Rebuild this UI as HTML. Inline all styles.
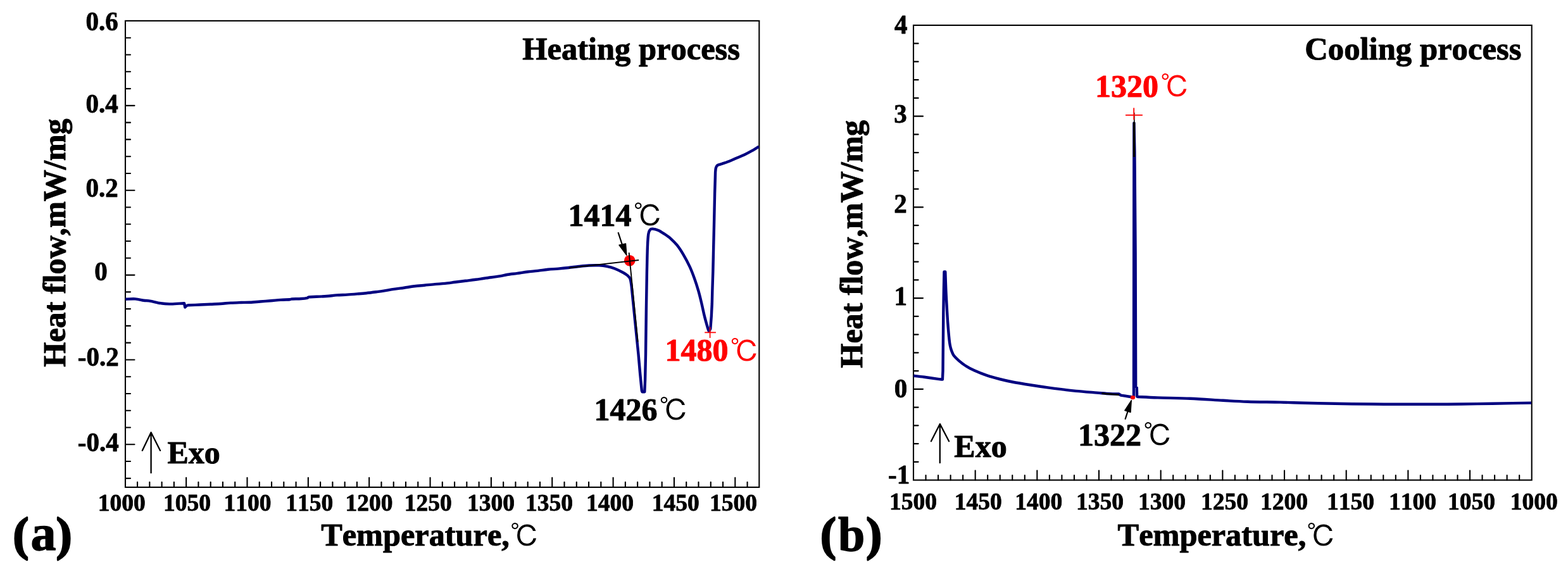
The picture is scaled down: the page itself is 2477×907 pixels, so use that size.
<!DOCTYPE html>
<html><head><meta charset="utf-8"><title>DSC heating and cooling curves</title>
<style>html,body{margin:0;padding:0;background:#fff;}body{width:2477px;height:907px;overflow:hidden;}svg{display:block;}
text{font-family:'Liberation Serif', 'Noto Serif CJK SC', serif;font-weight:bold;font-kerning:none;font-feature-settings:'kern' 0;stroke:#000;stroke-width:1px;stroke-linejoin:round;}.c{font-family:'Liberation Sans', 'IPAGothic', 'Noto Sans CJK JP', sans-serif;font-weight:normal;stroke-width:0;}.r{fill:#f00;stroke:#f00;}</style></head>
<body><svg width="2477" height="907" viewBox="0 0 2477 907">
<rect width="2477" height="907" fill="#fff"/>
<g stroke="#000" stroke-width="2.1" fill="none">
<rect x="198.0" y="32.9" width="1001.30" height="737.00"/>
<path d="M217.07 769.9v-8M236.34 769.9v-8M255.61 769.9v-8M274.88 769.9v-8M294.15 769.9v-15M313.42 769.9v-8M332.69 769.9v-8M351.96 769.9v-8M371.23 769.9v-8M390.50 769.9v-15M409.77 769.9v-8M429.04 769.9v-8M448.31 769.9v-8M467.58 769.9v-8M486.85 769.9v-15M506.12 769.9v-8M525.39 769.9v-8M544.66 769.9v-8M563.93 769.9v-8M583.20 769.9v-15M602.47 769.9v-8M621.74 769.9v-8M641.01 769.9v-8M660.28 769.9v-8M679.55 769.9v-15M698.82 769.9v-8M718.09 769.9v-8M737.36 769.9v-8M756.63 769.9v-8M775.90 769.9v-15M795.17 769.9v-8M814.44 769.9v-8M833.71 769.9v-8M852.98 769.9v-8M872.25 769.9v-15M891.52 769.9v-8M910.79 769.9v-8M930.06 769.9v-8M949.33 769.9v-8M968.60 769.9v-15M987.87 769.9v-8M1007.14 769.9v-8M1026.41 769.9v-8M1045.68 769.9v-8M1064.95 769.9v-15M1084.22 769.9v-8M1103.49 769.9v-8M1122.76 769.9v-8M1142.03 769.9v-8M1161.30 769.9v-15M1180.57 769.9v-8M198.0 59.77h8M198.0 86.54h8M198.0 113.32h8M198.0 140.09h8M198.0 166.86h14.5M198.0 193.63h8M198.0 220.40h8M198.0 247.18h8M198.0 273.95h8M198.0 300.72h14.5M198.0 327.49h8M198.0 354.26h8M198.0 381.04h8M198.0 407.81h8M198.0 434.58h14.5M198.0 461.35h8M198.0 488.12h8M198.0 514.90h8M198.0 541.67h8M198.0 568.44h14.5M198.0 595.21h8M198.0 621.98h8M198.0 648.76h8M198.0 675.53h8M198.0 702.30h14.5M198.0 729.07h8M198.0 755.84h8" stroke-linecap="round"/>
</g>
<g>
<text x="154.80" y="807.40" font-size="37.5" style="stroke-width:.8px">1000</text>
<text x="258.00" y="807.40" font-size="37.5" style="stroke-width:.8px">1050</text>
<text x="353.50" y="807.40" font-size="37.5" style="stroke-width:.8px">1100</text>
<text x="451.20" y="807.40" font-size="37.5" style="stroke-width:.8px">1150</text>
<text x="545.60" y="807.40" font-size="37.5" style="stroke-width:.8px">1200</text>
<text x="638.80" y="807.40" font-size="37.5" style="stroke-width:.8px">1250</text>
<text x="737.90" y="807.40" font-size="37.5" style="stroke-width:.8px">1300</text>
<text x="829.90" y="807.40" font-size="37.5" style="stroke-width:.8px">1350</text>
<text x="926.10" y="807.40" font-size="37.5" style="stroke-width:.8px">1400</text>
<text x="1029.70" y="807.40" font-size="37.5" style="stroke-width:.8px">1450</text>
<text x="1121.00" y="807.40" font-size="37.5" style="stroke-width:.8px">1500</text>
<text transform="translate(135.44 47.50) scale(1 1.045)" font-size="41" style="stroke-width:.8px">0.6</text>
<text transform="translate(135.44 178.30) scale(1 1.045)" font-size="41" style="stroke-width:.8px">0.4</text>
<text transform="translate(135.44 311.40) scale(1 1.045)" font-size="41" style="stroke-width:.8px">0.2</text>
<text transform="translate(149.34 443.10) scale(1 1.045)" font-size="41" style="stroke-width:.8px">0</text>
<text transform="translate(122.80 578.10) scale(1 1.045)" font-size="41" style="stroke-width:.8px">-0.2</text>
<text transform="translate(122.80 712.50) scale(1 1.045)" font-size="41" style="stroke-width:.8px">-0.4</text>
<text x="825.24" y="94.00" font-size="50.5">Heating process</text>
<text x="507.21" y="862.30" font-size="50.33">Temperature,<tspan dx="1.0" dy="1.4" class="c" font-size="46">℃</tspan></text>
<text transform="translate(102.7 579.66) rotate(-90)" font-size="50.1">Heat flow,mW/mg</text>
<text x="20.7" y="868.6" font-size="73" style="stroke-width:3px">(<tspan dx="3.4" font-size="80" style="stroke-width:1.4px">a</tspan><tspan dx="0.6">)</tspan></text>
<text x="264.45" y="731.70" font-size="50">Exo</text>
<text x="897.60" y="356.70" font-size="50">1414<tspan dx="3.2" dy="1.4" class="c" font-size="46">℃</tspan></text>
<text x="938.40" y="663.80" font-size="50">1426<tspan dx="3.2" dy="1.4" class="c" font-size="46">℃</tspan></text>
<text x="1050.40" y="570.30" font-size="50" class="r">1480<tspan dx="3.2" dy="1.4" class="c" font-size="46">℃</tspan></text>
</g>
<path d="M238.6 747.2V683.5M224.8 711.9L238.6 683.2L253.1 711.9" stroke="#000" stroke-width="2.3" fill="none" stroke-linecap="round" stroke-linejoin="round"/>
<path d="M198.20 472.80C200.77 472.73 208.75 472.07 213.60 472.40C218.45 472.73 223.67 474.32 227.30 474.80C230.93 475.28 230.95 474.57 235.40 475.30C239.85 476.03 248.62 478.35 254.00 479.20C259.38 480.05 262.73 480.33 267.70 480.40C272.67 480.47 279.90 479.78 283.80 479.60C287.70 479.42 289.88 479.35 291.10 479.30L292.30 485.60L294.50 483.20L297.00 482.30C300.18 482.17 310.22 481.77 316.10 481.50C321.98 481.23 326.92 480.95 332.30 480.70C337.68 480.45 343.02 480.35 348.40 480.00C353.78 479.65 359.22 478.93 364.60 478.60C369.98 478.27 375.63 478.15 380.70 478.00C385.77 477.85 389.93 477.95 395.00 477.70C400.07 477.45 405.72 476.90 411.10 476.50C416.48 476.10 421.92 475.73 427.30 475.30C432.68 474.87 438.28 474.25 443.40 473.90C448.52 473.55 455.03 473.43 458.00 473.20C460.97 472.97 458.25 472.70 461.20 472.50C464.15 472.30 471.67 472.28 475.70 472.00C479.73 471.72 483.37 471.23 485.40 470.80C487.43 470.37 485.47 469.73 487.90 469.40C490.33 469.07 495.30 469.03 500.00 468.80C504.70 468.57 510.72 468.40 516.10 468.00C521.48 467.60 526.92 466.80 532.30 466.40C537.68 466.00 543.02 465.93 548.40 465.60C553.78 465.27 559.62 464.80 564.60 464.40C569.58 464.00 573.33 463.72 578.30 463.20C583.27 462.68 589.77 461.88 594.40 461.30C599.03 460.72 601.45 460.43 606.10 459.70C610.75 458.97 616.92 457.73 622.30 456.90C627.68 456.07 633.02 455.47 638.40 454.70C643.78 453.93 649.22 452.97 654.60 452.30C659.98 451.63 665.32 451.23 670.70 450.70C676.08 450.17 681.52 449.57 686.90 449.10C692.28 448.63 697.62 448.45 703.00 447.90C708.38 447.35 713.82 446.48 719.20 445.80C724.58 445.12 729.92 444.47 735.30 443.80C740.68 443.13 746.12 442.53 751.50 441.80C756.88 441.07 761.28 440.30 767.60 439.40C773.92 438.50 783.82 437.30 789.40 436.40C794.98 435.50 796.45 434.75 801.10 434.00C805.75 433.25 811.92 432.65 817.30 431.90C822.68 431.15 828.02 430.17 833.40 429.50C838.78 428.83 844.22 428.52 849.60 427.90C854.98 427.28 860.32 426.35 865.70 425.80C871.08 425.25 876.52 425.07 881.90 424.60C887.28 424.13 892.62 423.60 898.00 423.00C903.38 422.40 908.82 421.58 914.20 421.00C919.58 420.42 924.92 419.78 930.30 419.50C935.68 419.22 941.78 419.08 946.50 419.30C951.22 419.52 954.57 419.98 958.60 420.80C962.63 421.62 966.40 422.55 970.70 424.20C975.00 425.85 980.93 428.82 984.40 430.70C987.87 432.58 989.63 433.78 991.50 435.50C993.37 437.22 994.58 438.25 995.60 441.00C996.62 443.75 997.27 450.17 997.60 452.00L1008.50 560.00L1011.20 590.80L1013.80 617.00L1014.50 619.20L1018.30 619.20L1019.10 600.00L1020.00 560.00L1020.90 488.80L1021.90 429.30C1022.07 422.70 1022.50 399.62 1022.90 389.70C1023.30 379.78 1023.63 374.25 1024.30 369.80C1024.97 365.35 1025.82 364.37 1026.90 363.00C1027.98 361.63 1028.62 361.45 1030.80 361.60C1032.98 361.75 1036.82 362.52 1040.00 363.90C1043.18 365.28 1046.60 367.67 1049.90 369.90C1053.20 372.13 1056.48 374.33 1059.80 377.30C1063.12 380.27 1066.48 383.48 1069.80 387.70C1073.12 391.92 1076.40 396.98 1079.70 402.60C1083.00 408.22 1086.72 415.17 1089.60 421.40C1092.48 427.63 1094.70 433.58 1097.00 440.00C1099.30 446.42 1101.50 453.28 1103.40 459.90C1105.30 466.52 1106.82 473.08 1108.40 479.70C1109.98 486.32 1111.28 493.13 1112.90 499.60C1114.52 506.07 1116.88 514.47 1118.10 518.50C1119.32 522.53 1119.85 522.92 1120.20 523.80L1122.30 519.40L1123.80 499.60L1124.80 479.70L1125.30 459.90L1126.30 429.30L1127.20 389.70L1128.00 356.00L1129.10 305.80L1130.10 272.00C1130.25 270.83 1130.43 266.80 1131.00 265.00C1131.57 263.20 1132.00 262.20 1133.50 261.20C1135.00 260.20 1137.25 259.95 1140.00 259.00C1142.75 258.05 1146.17 257.00 1150.00 255.50C1153.83 254.00 1158.67 251.83 1163.00 250.00C1167.33 248.17 1171.83 246.47 1176.00 244.50C1180.17 242.53 1184.22 240.35 1188.00 238.20C1191.78 236.05 1196.92 232.70 1198.70 231.60" fill="none" stroke="#000080" stroke-width="4.4" stroke-linejoin="round" stroke-linecap="butt"/>
<circle cx="994.7" cy="411.7" r="8.8" fill="#f00"/>
<path d="M898.6 423.4L1009.1 411M993.6 399.1L1007.6 540.3" stroke="#000" stroke-width="1.9" fill="none"/>
<path d="M976.5 367.1L984 390" stroke="#000" stroke-width="2.2" fill="none"/>
<path d="M978 387.3L989.9 403.4L988.5 385Z" fill="#000" stroke="#000" stroke-width="1.4" stroke-linejoin="round"/>
<path d="M1113.2 525.4H1130.9M1121.6 517.1V534.1" stroke="#f00" stroke-width="1.6" fill="none"/>
<g stroke="#000" stroke-width="2.1" fill="none">
<rect x="1443.0" y="39.9" width="976.70" height="718.70"/>
<path d="M1462.53 758.6v-7.6M1482.07 758.6v-7.6M1501.60 758.6v-7.6M1521.14 758.6v-7.6M1540.67 758.6v-15M1560.20 758.6v-7.6M1579.74 758.6v-7.6M1599.27 758.6v-7.6M1618.81 758.6v-7.6M1638.34 758.6v-15M1657.87 758.6v-7.6M1677.41 758.6v-7.6M1696.94 758.6v-7.6M1716.48 758.6v-7.6M1736.01 758.6v-15M1755.54 758.6v-7.6M1775.08 758.6v-7.6M1794.61 758.6v-7.6M1814.15 758.6v-7.6M1833.68 758.6v-15M1853.21 758.6v-7.6M1872.75 758.6v-7.6M1892.28 758.6v-7.6M1911.82 758.6v-7.6M1931.35 758.6v-15M1950.88 758.6v-7.6M1970.42 758.6v-7.6M1989.95 758.6v-7.6M2009.49 758.6v-7.6M2029.02 758.6v-15M2048.55 758.6v-7.6M2068.09 758.6v-7.6M2087.62 758.6v-7.6M2107.16 758.6v-7.6M2126.69 758.6v-15M2146.22 758.6v-7.6M2165.76 758.6v-7.6M2185.29 758.6v-7.6M2204.83 758.6v-7.6M2224.36 758.6v-15M2243.89 758.6v-7.6M2263.43 758.6v-7.6M2282.96 758.6v-7.6M2302.50 758.6v-7.6M2322.03 758.6v-15M2341.56 758.6v-7.6M2361.10 758.6v-7.6M2380.63 758.6v-7.6M2400.17 758.6v-7.6M1443.0 68.65h7.6M1443.0 97.40h7.6M1443.0 126.14h7.6M1443.0 154.89h7.6M1443.0 183.64h15M1443.0 212.39h7.6M1443.0 241.14h7.6M1443.0 269.88h7.6M1443.0 298.63h7.6M1443.0 327.38h15M1443.0 356.13h7.6M1443.0 384.88h7.6M1443.0 413.62h7.6M1443.0 442.37h7.6M1443.0 471.12h15M1443.0 499.87h7.6M1443.0 528.62h7.6M1443.0 557.36h7.6M1443.0 586.11h7.6M1443.0 614.86h15M1443.0 643.61h7.6M1443.0 672.36h7.6M1443.0 701.10h7.6M1443.0 729.85h7.6" stroke-linecap="round"/>
</g>
<g>
<text x="1404.90" y="805.20" font-size="37.5" style="stroke-width:.8px">1500</text>
<text x="1507.70" y="805.20" font-size="37.5" style="stroke-width:.8px">1450</text>
<text x="1603.20" y="805.20" font-size="37.5" style="stroke-width:.8px">1400</text>
<text x="1700.10" y="805.20" font-size="37.5" style="stroke-width:.8px">1350</text>
<text x="1798.00" y="805.20" font-size="37.5" style="stroke-width:.8px">1300</text>
<text x="1897.00" y="805.20" font-size="37.5" style="stroke-width:.8px">1250</text>
<text x="1991.00" y="805.20" font-size="37.5" style="stroke-width:.8px">1200</text>
<text x="2096.10" y="805.20" font-size="37.5" style="stroke-width:.8px">1150</text>
<text x="2194.00" y="805.20" font-size="37.5" style="stroke-width:.8px">1100</text>
<text x="2286.90" y="805.20" font-size="37.5" style="stroke-width:.8px">1050</text>
<text x="2385.80" y="805.20" font-size="37.5" style="stroke-width:.8px">1000</text>
<text transform="translate(1413.04 52.50) scale(1 1.045)" font-size="41" style="stroke-width:.8px">4</text>
<text transform="translate(1412.16 194.30) scale(1 1.045)" font-size="41" style="stroke-width:.8px">3</text>
<text transform="translate(1412.28 336.40) scale(1 1.045)" font-size="41" style="stroke-width:.8px">2</text>
<text transform="translate(1412.42 481.80) scale(1 1.045)" font-size="41" style="stroke-width:.8px">1</text>
<text transform="translate(1412.74 628.20) scale(1 1.045)" font-size="41" style="stroke-width:.8px">0</text>
<text transform="translate(1403.10 763.90) scale(1 1.045)" font-size="41" style="stroke-width:.8px">-1</text>
<text x="2061.22" y="93.60" font-size="50.7">Cooling process</text>
<text x="1765.61" y="862.30" font-size="50.33">Temperature,<tspan dx="1.0" dy="1.4" class="c" font-size="46">℃</tspan></text>
<text transform="translate(1362 581.46) rotate(-90)" font-size="50">Heat flow,mW/mg</text>
<text x="1296.2" y="868.8" font-size="73" style="stroke-width:3px">(<tspan dx="3.5" dy="1" font-size="76" style="stroke-width:1.4px">b</tspan><tspan dx="2.3" dy="-1">)</tspan></text>
<text x="1507.35" y="722.20" font-size="50">Exo</text>
<text x="1730.10" y="152.90" font-size="50" class="r">1320<tspan dx="3.2" dy="1.4" class="c" font-size="46">℃</tspan></text>
<text x="1703.00" y="703.60" font-size="50">1322<tspan dx="3.2" dy="1.4" class="c" font-size="46">℃</tspan></text>
</g>
<path d="M1484.8 731.3V670.2M1470.9 697.3L1484.8 669.9L1499.1 697.3" stroke="#000" stroke-width="2.3" fill="none" stroke-linecap="round" stroke-linejoin="round"/>
<path d="M1443.20 593.80C1446.00 594.13 1453.87 595.00 1460.00 595.80C1466.13 596.60 1475.18 597.97 1480.00 598.60C1484.82 599.23 1487.42 599.43 1488.90 599.60L1489.50 586.00L1490.30 494.60L1490.90 458.00L1491.50 429.50L1493.30 429.50C1493.47 434.25 1493.95 449.67 1494.30 458.00C1494.65 466.33 1494.97 471.62 1495.40 479.50C1495.83 487.38 1496.37 497.38 1496.90 505.30C1497.43 513.22 1498.05 520.88 1498.60 527.00C1499.15 533.12 1499.67 538.18 1500.20 542.00C1500.73 545.82 1501.20 547.58 1501.80 549.90C1502.40 552.22 1502.97 553.92 1503.80 555.90C1504.63 557.88 1504.98 559.48 1506.80 561.80C1508.62 564.12 1511.72 567.18 1514.70 569.80C1517.68 572.42 1520.57 574.87 1524.70 577.50C1528.83 580.13 1533.72 582.95 1539.50 585.60C1545.28 588.25 1552.78 591.17 1559.40 593.40C1566.02 595.63 1572.58 597.32 1579.20 599.00C1585.82 600.68 1590.82 601.92 1599.10 603.50C1607.38 605.08 1618.98 606.93 1628.90 608.50C1638.82 610.07 1650.33 611.75 1658.60 612.90C1666.87 614.05 1671.60 614.57 1678.50 615.40C1685.40 616.23 1690.92 617.03 1700.00 617.90C1709.08 618.77 1724.08 619.88 1733.00 620.60C1741.92 621.32 1747.78 621.90 1753.50 622.20C1759.22 622.50 1765.00 622.37 1767.30 622.40L1770.70 624.60L1789.00 627.50L1791.00 626.50L1791.40 194.50L1792.40 240.00L1793.60 400.00L1794.20 611.00L1795.80 612.50L1796.20 626.60L1797.80 627.00C1802.97 627.23 1815.03 627.93 1828.80 628.40C1842.57 628.87 1863.18 629.07 1880.40 629.80C1897.62 630.53 1917.02 631.98 1932.10 632.80C1947.18 633.62 1955.82 634.23 1970.90 634.70C1985.98 635.17 2007.53 635.25 2022.60 635.60C2037.67 635.95 2046.88 636.45 2061.30 636.80C2075.72 637.15 2096.65 637.47 2109.10 637.70C2121.55 637.93 2123.08 638.03 2136.00 638.20C2148.92 638.37 2170.40 638.60 2186.60 638.70C2202.80 638.80 2216.55 638.80 2233.20 638.80C2249.85 638.80 2269.85 638.82 2286.50 638.70C2303.15 638.58 2316.00 638.37 2333.10 638.10C2350.20 637.83 2374.77 637.35 2389.10 637.10C2403.43 636.85 2414.10 636.68 2419.10 636.60" fill="none" stroke="#000080" stroke-width="4.4" stroke-linejoin="round" stroke-linecap="butt"/>
<path d="M1740.4 621.7L1768 623.9" stroke="#000" stroke-width="2.7" fill="none"/>
<path d="M1791.6 193V248" stroke="#000" stroke-width="3.4" fill="none"/>
<path d="M1791.8 177.9V193" stroke="#000" stroke-width="1.6" fill="none"/>
<ellipse cx="1789.5" cy="628.1" rx="3.7" ry="3.2" fill="#f00"/>
<path d="M1777.7 661.9L1782.5 647" stroke="#000" stroke-width="2.2" fill="none" stroke-linecap="round"/>
<path d="M1776.8 648.6L1787.3 632.6L1786 651.5Z" fill="#000" stroke="#000" stroke-width="1.4" stroke-linejoin="round"/>
<path d="M1778 181.8H1804.9M1791.2 170.4V189.3" stroke="#f00" stroke-width="1.8" fill="none"/>
</svg></body></html>
